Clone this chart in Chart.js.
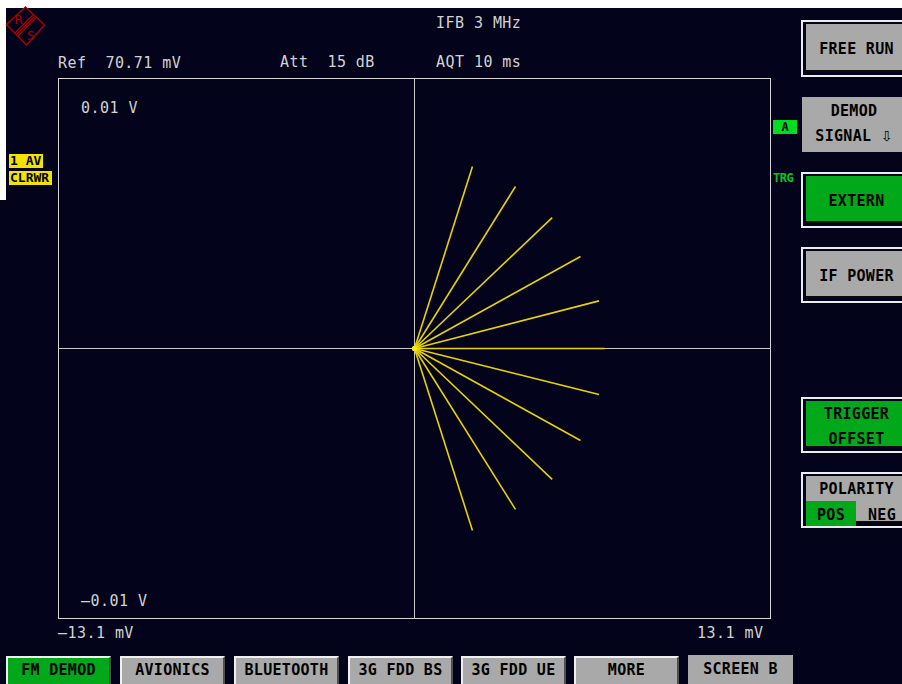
<!DOCTYPE html>
<html>
<head>
<meta charset="utf-8">
<script src="https://cdn.jsdelivr.net/npm/chart.js@4/dist/chart.umd.min.js"></script>
<style>
  html, body { margin: 0; padding: 0; }
  body {
    width: 902px; height: 684px; position: relative; overflow: hidden;
    background: #03031b;
    font-family: "DejaVu Sans Mono", "Liberation Mono", monospace;
  }
  .strip { position: absolute; background: #ffffff; }
  .t {
    position: absolute; white-space: pre; color: #d2d2d2;
    font-size: 15px; line-height: 15px; letter-spacing: 0.45px;
  }
  .badge {
    position: absolute; background: #f2e400; color: #000;
    font-weight: bold; font-size: 13px; line-height: 14px;
    padding: 0 1px; white-space: pre;
  }
  .lbl { position: absolute; font-weight: bold; white-space: pre; }
  .sk {
    position: absolute; left: 801px; width: 110px; box-sizing: border-box;
    border: 2px solid #ececec; border-right: none; background: #03031b;
  }
  .sk .in {
    position: absolute; left: 3px; top: 2px; right: 0; bottom: 3px;
    box-sizing: border-box; border-bottom: 2px solid #0a0a0a;
    background: #a9a9a9;
  }
  .sk .in.g { background: #00a81a; }
  .btxt {
    position: absolute; left: 0; width: 101px; text-align: center;
    color: #000; font-weight: bold; font-size: 15px; line-height: 15px;
    letter-spacing: 0.3px; white-space: pre;
  }
  .arrow { font-family: "DejaVu Sans"; font-weight: normal; font-size: 14px; }
  .hk {
    position: absolute; top: 656px; height: 30px; width: 105px; box-sizing: border-box;
    border-top: 2px solid #f0f0f0; border-left: 2px solid #f0f0f0;
    border-right: 2px solid #505050;
    background: #a9a9a9; color: #000; font-weight: bold; font-size: 15px;
    line-height: 25px; text-align: center; letter-spacing: 0.3px; white-space: pre;
  }
  .hk.g { background: #00a81a; }
  .hk.flat { border: none; top: 655px; line-height: 28px; }
  #plot { position: absolute; left: 58px; top: 78px; width: 713px; height: 541px; }
</style>
</head>
<body>
<script>
// Vector (I/Q) display: each ray goes from the origin to its end point, in mV.
const rayEndX = [2.13, 3.71, 5.06, 6.10, 6.78, 6.99, 6.78, 6.10, 5.06, 3.71, 2.13];
const rayEndY = [6.73, 5.99, 4.84, 3.40, 1.76, 0.00, -1.70, -3.40, -4.84, -5.95, -6.73];
const rayOrigin = { x: 0, y: 0 };

// Axis extents (mV) and the labels printed at the screen edges
const xRange = [-13.1, 13.1];
const yRange = [-10, 10];
const xTickLabels = ['\u201313.1 mV', '13.1 mV'];
const yTickLabels = ['0.01 V', '\u20130.01 V'];

// Instrument settings shown in the header
const headerTexts = ['IFB 3 MHz', 'Ref  70.71 mV', 'Att  15 dB', 'AQT 10 ms'];
// Bottom hotkeys
const hotkeys = ['FM DEMOD', 'AVIONICS', 'BLUETOOTH', '3G FDD BS', '3G FDD UE', 'MORE', 'SCREEN B'];
</script>

<div class="strip" style="left:0;top:0;width:902px;height:8px"></div>
<div class="strip" style="left:0;top:0;width:6px;height:200px"></div>

<!-- R&S logo -->
<svg style="position:absolute;left:0;top:0" width="52" height="52">
  <g stroke="#b00000" fill="none" stroke-width="1.3">
    <polygon points="6.5,24.5 25.5,7 44.5,25 26.5,45"/>
    <line x1="14.5" y1="33.5" x2="33" y2="15"/>
    <line x1="16" y1="35" x2="34.5" y2="16.5"/>
    <line x1="17.5" y1="36.5" x2="36" y2="18"/>
  </g>
  <text x="14.5" y="24" fill="#b00000" font-family="DejaVu Sans" font-size="12">R</text>
  <text x="27" y="40" fill="#b00000" font-family="DejaVu Sans" font-size="12">S</text>
</svg>

<div id="texts"></div>

<div class="badge" style="left:9px;top:154px;width:32px">1 AV</div>
<div class="badge" style="left:9px;top:171px;width:41px">CLRWR</div>

<div class="lbl" style="left:773px;top:120px;width:24px;height:14px;background:#00dc20;color:#000;font-size:12px;line-height:14px;text-align:center">A</div>
<div class="lbl" style="left:773px;top:172px;color:#00c81a;font-size:12px;line-height:13px;letter-spacing:-0.5px">TRG</div>

<!-- softkeys -->
<div class="sk" style="top:20px;height:57px"><div class="in"><div class="btxt" style="top:18px">FREE RUN</div></div></div>
<div style="position:absolute;left:802px;top:97px;width:100px;height:55px;background:#a9a9a9">
  <div class="btxt" style="top:7px;width:104px">DEMOD</div>
  <div class="btxt" style="top:32px;width:104px">SIGNAL <span class="arrow">&#8681;</span></div>
</div>
<div class="sk" style="top:172px;height:56px"><div class="in g"><div class="btxt" style="top:18px">EXTERN</div></div></div>
<div class="sk" style="top:247px;height:56px"><div class="in"><div class="btxt" style="top:18px">IF POWER</div></div></div>
<div class="sk" style="top:397px;height:56px"><div class="in g">
  <div class="btxt" style="top:6px">TRIGGER</div>
  <div class="btxt" style="top:31px">OFFSET</div>
</div></div>
<div class="sk" style="top:472px;height:56px"><div class="in">
  <div class="btxt" style="top:6px">POLARITY</div>
  <div style="position:absolute;left:0;top:25px;width:50px;height:25px;background:#00a81a"></div>
  <div class="btxt" style="top:32px;left:0;width:50px">POS</div>
  <div class="btxt" style="top:32px;left:50px;width:52px">NEG</div>
</div></div>

<div id="hotkeys"></div>

<div id="plot"><canvas id="c"></canvas></div>

<script>
// header and edge labels
const textSpec = [
  [headerTexts[0], 436, 23.5],
  [headerTexts[1], 58, 63],
  [headerTexts[2], 280, 62.5],
  [headerTexts[3], 436, 62.5],
  [yTickLabels[0], 81, 108],
  [yTickLabels[1], 81, 601],
  [xTickLabels[0], 58, 633],
  [xTickLabels[1], 697, 633]
];
const texts = document.getElementById('texts');
textSpec.forEach(([s, x, cy]) => {
  const d = document.createElement('div');
  d.className = 't';
  d.textContent = s;
  d.style.left = x + 'px';
  d.style.top = (cy - 7.5) + 'px';
  texts.appendChild(d);
});

// hotkey bar
const hkX = [6, 120, 234, 348, 461, 574, 688];
const hk = document.getElementById('hotkeys');
hotkeys.forEach((s, i) => {
  const d = document.createElement('div');
  d.className = 'hk' + (i === 0 ? ' g' : '') + (i === hotkeys.length - 1 ? ' flat' : '');
  d.textContent = s;
  d.style.left = hkX[i] + 'px';
  hk.appendChild(d);
});

// frame and crosshair through the origin
const screenGrid = {
  id: 'screenGrid',
  beforeDatasetsDraw(chart) {
    const { ctx, chartArea: a, scales } = chart;
    ctx.save();
    ctx.strokeStyle = '#d6d6d6';
    ctx.lineWidth = 1;
    ctx.strokeRect(a.left + 0.5, a.top + 0.5, a.right - a.left - 1, a.bottom - a.top - 1);
    const x0 = Math.floor(scales.x.getPixelForValue(0)) + 0.5;
    const y0 = Math.floor(scales.y.getPixelForValue(0)) + 0.5;
    ctx.strokeStyle = '#c8c8c8';
    ctx.beginPath();
    ctx.moveTo(x0, a.top); ctx.lineTo(x0, a.bottom);
    ctx.moveTo(a.left, y0); ctx.lineTo(a.right, y0);
    ctx.stroke();
    ctx.restore();
  }
};

const datasets = rayEndX.map((ex, i) => ({
  data: [rayOrigin, { x: ex, y: rayEndY[i] }],
  showLine: true,
  borderColor: 'rgb(232,210,0)',
  borderWidth: 1.6,
  pointRadius: (c) => (c.dataIndex === 0 ? 2.2 : 0),
  pointBackgroundColor: 'rgb(255,236,0)',
  pointBorderWidth: 0,
  tension: 0
}));

new Chart(document.getElementById('c'), {
  type: 'scatter',
  data: { datasets },
  options: {
    responsive: true,
    maintainAspectRatio: false,
    animation: false,
    layout: { padding: 0, autoPadding: false },
    scales: {
      x: { type: 'linear', min: xRange[0], max: xRange[1], display: false },
      y: { type: 'linear', min: yRange[0], max: yRange[1], display: false }
    },
    plugins: { legend: { display: false }, tooltip: { enabled: false } }
  },
  plugins: [screenGrid]
});
</script>
</body>
</html>
